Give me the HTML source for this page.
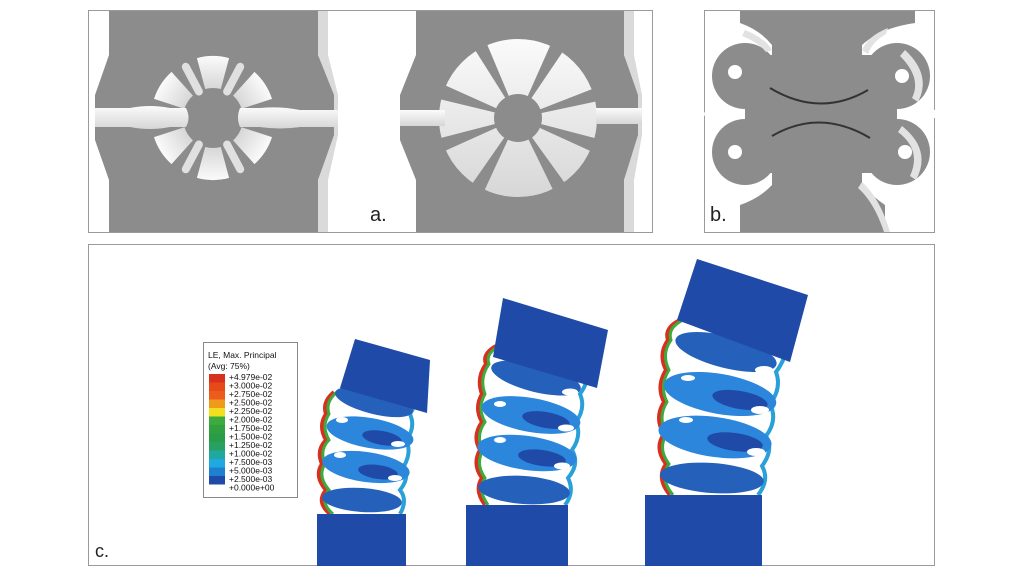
<!DOCTYPE html>
<html><head><meta charset="utf-8"><style>
html,body{margin:0;padding:0;background:#fff;width:1024px;height:576px;overflow:hidden}
svg{display:block}
text{font-family:"Liberation Sans",sans-serif}
</style></head><body>
<svg width="1024" height="576" viewBox="0 0 1024 576" xmlns="http://www.w3.org/2000/svg">
<defs>
<linearGradient id="cut" x1="0" y1="0" x2="0" y2="1"><stop offset="0" stop-color="#fbfbfb"/><stop offset="1" stop-color="#d6d6d6"/></linearGradient>
<path id="wedge" d="M205.2 89 L196.9 58.1 A62 62 0 0 1 229.1 58.1 L220.8 89 A30 30 0 0 0 205.2 89 Z"/>
</defs>
<!-- Panel a -->
<rect x="88.5" y="10.5" width="564" height="222" fill="#fff" stroke="#9a9a9a"/>
<path d="M109 11 H318 V55 L336 95 V135 L318 180 V232 H109 V180 L95 140 V95 L109 55 Z" fill="#8c8c8c"/>
<path d="M318 11 H328 V55 L338 95 V135 L328 180 V232 H318 V180 L334 135 V95 L318 55 Z" fill="#dadada"/>
<g fill="url(#cut)">
<use href="#wedge"/>
<use href="#wedge" transform="rotate(57 213 118)"/>
<use href="#wedge" transform="rotate(123 213 118)"/>
<use href="#wedge" transform="rotate(180 213 118)"/>
<use href="#wedge" transform="rotate(237 213 118)"/>
<use href="#wedge" transform="rotate(303 213 118)"/>
</g>
<g fill="#e0e0e0">
<rect x="209" y="56" width="8" height="36" rx="4" transform="rotate(-28 213 118)"/>
<rect x="209" y="56" width="8" height="36" rx="4" transform="rotate(28 213 118)"/>
<rect x="209" y="56" width="8" height="36" rx="4" transform="rotate(152 213 118)"/>
<rect x="209" y="56" width="8" height="36" rx="4" transform="rotate(208 213 118)"/>
</g>
<path d="M95 108 H130 Q150 104 170 108 H186 Q191 118 186 127 H170 Q150 131 130 127 H95 Z" fill="url(#cut)"/>
<path d="M240 108 Q236 118 240 127 H260 Q280 130 300 127 H338 V110 H300 Q280 106 260 108 Z" fill="url(#cut)"/>
<path d="M416 11 H624 V55 L640 95 V135 L624 180 V232 H416 V180 L400 140 V95 L416 55 Z" fill="#8c8c8c"/>
<path d="M624 11 H634 V55 L642 95 V135 L634 180 V232 H624 V180 L638 135 V95 L624 55 Z" fill="#dadada"/>
<circle cx="518" cy="118" r="82" fill="url(#cut)"/>
<g fill="#8c8c8c">
<path d="M518 118 L470 42 L484 37 Z"/><path d="M518 118 L554 37 L568 44 Z"/>
<path d="M518 118 L600 86 L603 100 Z"/><path d="M518 118 L602 140 L597 154 Z"/>
<path d="M518 118 L572 193 L558 200 Z"/><path d="M518 118 L480 200 L465 194 Z"/>
<path d="M518 118 L438 154 L433 140 Z"/><path d="M518 118 L435 98 L440 83 Z"/>
</g>
<circle cx="518" cy="118" r="24" fill="#8c8c8c"/>
<circle cx="518" cy="118" r="82" fill="none" stroke="#8c8c8c" stroke-width="6"/>
<path d="M400 110 H445 V126 H400 Z" fill="url(#cut)"/>
<path d="M596 108 H642 V124 H596 Z" fill="url(#cut)"/>
<text x="370" y="221" font-size="20" fill="#222">a.</text>
<!-- Panel b -->
<rect x="704.5" y="10.5" width="230" height="222" fill="#fff" stroke="#9a9a9a"/>
<g fill="#8c8c8c">
<rect x="740" y="11" width="175" height="12"/>
<rect x="772" y="11" width="90" height="221"/>
<rect x="740" y="205" width="145" height="27"/>
<path d="M740 23 Q760 30 772 45 V23 Z"/>
<path d="M915 23 Q880 28 862 45 V23 Z"/>
<path d="M740 205 Q760 198 772 185 V205 Z"/>
<path d="M885 205 Q872 196 862 185 V205 Z"/>
<circle cx="745" cy="76" r="33"/><circle cx="745" cy="152" r="33"/>
<circle cx="897" cy="76" r="33"/><circle cx="897" cy="152" r="33"/>
<rect x="745" y="55" width="152" height="118"/>
</g>
<g fill="#fff">
<circle cx="735" cy="72" r="7"/><circle cx="735" cy="152" r="7"/>
<circle cx="902" cy="76" r="7"/><circle cx="905" cy="152" r="7"/>
<ellipse cx="712" cy="114" rx="8" ry="5"/><ellipse cx="930" cy="114" rx="8" ry="5"/>
</g>
<g fill="#e2e2e2">
<path d="M745 30 Q765 38 772 50 L766 52 Q758 42 742 36 Z"/>
<path d="M862 50 Q868 36 888 28 L886 34 Q872 42 868 54 Z"/>
<path d="M905 50 Q932 75 918 102 L912 98 Q922 78 900 56 Z"/>
<path d="M902 126 Q932 150 916 180 L910 176 Q922 150 898 132 Z"/>
<path d="M862 182 Q880 198 890 232 H884 Q874 202 858 188 Z"/>
</g>
<path d="M770 88 Q820 118 868 90" stroke="#333" stroke-width="2" fill="none"/>
<path d="M772 136 Q820 108 870 138" stroke="#333" stroke-width="2" fill="none"/>
<text x="710" y="221" font-size="20" fill="#222">b.</text>
<!-- Panel c -->
<rect x="88.5" y="244.5" width="846" height="321" fill="#fff" stroke="#9a9a9a"/>
<text x="95" y="557" font-size="18" fill="#222">c.</text>
<rect x="203.5" y="342.5" width="94" height="155" fill="#fff" stroke="#888"/>
<text x="208" y="358" font-size="8.5" fill="#111">LE, Max. Principal</text>
<text x="208" y="369" font-size="8.5" fill="#111">(Avg: 75%)</text>
<g>
<rect x="209" y="374" width="16" height="8.5" fill="#d8301e"/>
<rect x="209" y="382.5" width="16" height="8.5" fill="#e64a1a"/>
<rect x="209" y="391" width="16" height="8.5" fill="#ec5c1c"/>
<rect x="209" y="399.5" width="16" height="8.5" fill="#f09a1c"/>
<rect x="209" y="408" width="16" height="8.5" fill="#f0e020"/>
<rect x="209" y="416.5" width="16" height="8.5" fill="#3caa3c"/>
<rect x="209" y="425" width="16" height="8.5" fill="#30a040"/>
<rect x="209" y="433.5" width="16" height="8.5" fill="#2a9c48"/>
<rect x="209" y="442" width="16" height="8.5" fill="#28a060"/>
<rect x="209" y="450.5" width="16" height="8.5" fill="#20a8a0"/>
<rect x="209" y="459" width="16" height="8.5" fill="#20a8e0"/>
<rect x="209" y="467.5" width="16" height="8.5" fill="#2080d0"/>
<rect x="209" y="476" width="16" height="8.5" fill="#1f4aa8"/>
</g>
<g font-size="8.5" fill="#111">
<text x="229" y="380">+4.979e-02</text><text x="229" y="388.5">+3.000e-02</text><text x="229" y="397">+2.750e-02</text><text x="229" y="405.5">+2.500e-02</text><text x="229" y="414">+2.250e-02</text><text x="229" y="422.5">+2.000e-02</text><text x="229" y="431">+1.750e-02</text><text x="229" y="439.5">+1.500e-02</text><text x="229" y="448">+1.250e-02</text><text x="229" y="456.5">+1.000e-02</text><text x="229" y="465">+7.500e-03</text><text x="229" y="473.5">+5.000e-03</text><text x="229" y="482">+2.500e-03</text><text x="229" y="490.5">+0.000e+00</text>
</g>
<!-- specimen 1 -->
<g>
<path d="M330 514 Q316 502 326 490 Q314 476 322 464 Q316 450 326 440 Q318 426 326 414 Q322 402 334 392" stroke="#d8301e" stroke-width="4" fill="none"/>
<path d="M333 514 Q319 502 329 490 Q317 476 325 464 Q319 450 329 440 Q321 426 329 414 Q325 402 337 392" stroke="#3caa3c" stroke-width="3" fill="none"/>
<path d="M400 514 Q408 500 400 490 Q410 478 404 466 Q412 452 406 440 Q416 428 410 414 Q418 402 414 392" stroke="#2aa0d8" stroke-width="4" fill="none"/>
<ellipse cx="362" cy="500" rx="40" ry="12" transform="rotate(4 362 500)" fill="#2560bb"/>
<ellipse cx="366" cy="467" rx="44" ry="15" transform="rotate(8 366 467)" fill="#2b86dc"/>
<ellipse cx="370" cy="433" rx="44" ry="15" transform="rotate(10 370 433)" fill="#2b86dc"/>
<ellipse cx="374" cy="402" rx="40" ry="12" transform="rotate(14 374 402)" fill="#2560bb"/>
<ellipse cx="378" cy="472" rx="20" ry="7" transform="rotate(8 378 472)" fill="#1f4aa8"/>
<ellipse cx="382" cy="438" rx="20" ry="7" transform="rotate(10 382 438)" fill="#1f4aa8"/>
<g fill="#fff"><ellipse cx="395" cy="478" rx="7" ry="3"/><ellipse cx="398" cy="444" rx="7" ry="3"/><ellipse cx="340" cy="455" rx="6" ry="3"/><ellipse cx="342" cy="420" rx="6" ry="3"/></g>
<path d="M355 339 L430 360 L427 413 L340 388 Z" fill="#1f4aa8"/>
<rect x="317" y="514" width="89" height="52" fill="#1f4aa8"/>
</g>
<!-- specimen 2 -->
<g>
<path d="M485 505 Q474 490 482 478 Q472 464 480 450 Q472 436 482 422 Q474 408 482 394 Q476 378 486 364 Q482 354 496 346" stroke="#d8301e" stroke-width="4" fill="none"/>
<path d="M488 505 Q477 490 485 478 Q475 464 483 450 Q475 436 485 422 Q477 408 485 394 Q479 378 489 364 Q485 354 499 346" stroke="#3caa3c" stroke-width="3" fill="none"/>
<path d="M565 505 Q575 492 568 478 Q580 464 572 450 Q582 436 576 422 Q586 408 580 394 Q590 380 588 366" stroke="#2aa0d8" stroke-width="4" fill="none"/>
<ellipse cx="524" cy="490" rx="46" ry="14" transform="rotate(4 524 490)" fill="#2560bb"/>
<ellipse cx="527" cy="453" rx="50" ry="17" transform="rotate(8 527 453)" fill="#2b86dc"/>
<ellipse cx="531" cy="415" rx="50" ry="17" transform="rotate(10 531 415)" fill="#2b86dc"/>
<ellipse cx="536" cy="378" rx="46" ry="14" transform="rotate(14 536 378)" fill="#2560bb"/>
<ellipse cx="542" cy="458" rx="24" ry="8" transform="rotate(8 542 458)" fill="#1f4aa8"/>
<ellipse cx="546" cy="420" rx="24" ry="8" transform="rotate(10 546 420)" fill="#1f4aa8"/>
<g fill="#fff"><ellipse cx="562" cy="466" rx="8" ry="3.5"/><ellipse cx="566" cy="428" rx="8" ry="3.5"/><ellipse cx="570" cy="392" rx="8" ry="3.5"/><ellipse cx="500" cy="440" rx="6" ry="3"/><ellipse cx="500" cy="404" rx="6" ry="3"/></g>
<path d="M503 298 L608 330 L597 388 L493 357 Z" fill="#1f4aa8"/>
<rect x="466" y="505" width="102" height="61" fill="#1f4aa8"/>
</g>
<!-- specimen 3 -->
<g>
<path d="M670 495 Q656 478 666 464 Q654 448 664 434 Q654 418 664 402 Q656 386 666 370 Q658 354 668 340 Q664 328 680 320" stroke="#d8301e" stroke-width="4" fill="none"/>
<path d="M673 495 Q659 478 669 464 Q657 448 667 434 Q657 418 667 402 Q659 386 669 370 Q661 354 671 340 Q667 328 683 320" stroke="#3caa3c" stroke-width="3" fill="none"/>
<path d="M758 495 Q770 480 762 466 Q774 450 766 436 Q778 420 770 404 Q782 388 776 372 Q788 356 786 340" stroke="#2aa0d8" stroke-width="4" fill="none"/>
<ellipse cx="712" cy="478" rx="52" ry="15" transform="rotate(4 712 478)" fill="#2560bb"/>
<ellipse cx="715" cy="437" rx="57" ry="20" transform="rotate(8 715 437)" fill="#2b86dc"/>
<ellipse cx="720" cy="394" rx="57" ry="20" transform="rotate(10 720 394)" fill="#2b86dc"/>
<ellipse cx="726" cy="352" rx="52" ry="16" transform="rotate(14 726 352)" fill="#2560bb"/>
<ellipse cx="735" cy="442" rx="28" ry="9" transform="rotate(8 735 442)" fill="#1f4aa8"/>
<ellipse cx="740" cy="400" rx="28" ry="9" transform="rotate(10 740 400)" fill="#1f4aa8"/>
<g fill="#fff"><ellipse cx="756" cy="452" rx="9" ry="4"/><ellipse cx="760" cy="410" rx="9" ry="4"/><ellipse cx="764" cy="370" rx="9" ry="4"/><ellipse cx="686" cy="420" rx="7" ry="3"/><ellipse cx="688" cy="378" rx="7" ry="3"/></g>
<path d="M697 259 L808 295 L790 362 L677 320 Z" fill="#1f4aa8"/>
<rect x="645" y="495" width="117" height="71" fill="#1f4aa8"/>
</g>
</svg>
</body></html>
